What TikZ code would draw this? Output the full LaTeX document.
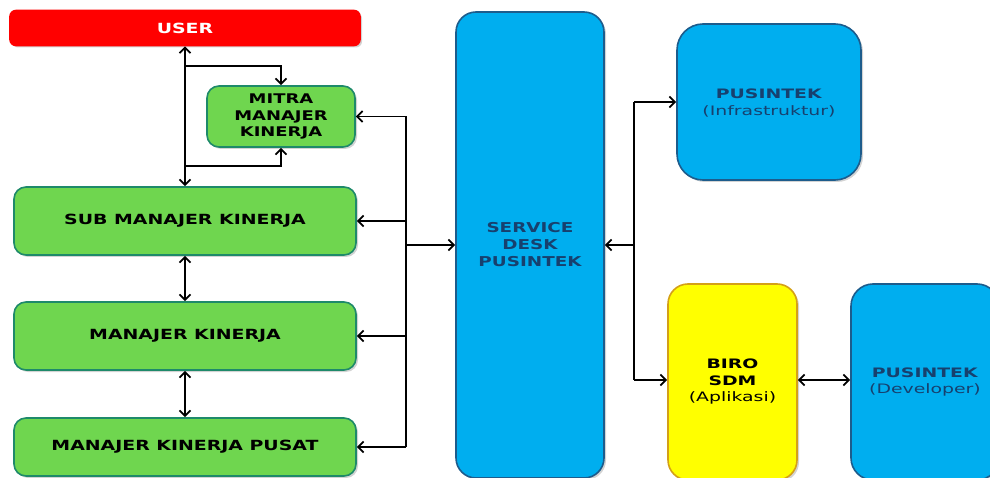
\documentclass[tikz,border=0pt]{standalone}
\usepackage{fontspec}
\setmainfont{DejaVu Sans}
\newfontfamily\widefont[FakeStretch=1.35]{DejaVu Sans}
\newfontfamily\widerfont[FakeStretch=1.45]{DejaVu Sans}
\usetikzlibrary{arrows.meta,shadows}
\definecolor{ured}{HTML}{FF0000}
\definecolor{gfill}{HTML}{6FD64F}
\definecolor{gdraw}{HTML}{1E8A6A}
\definecolor{bfill}{HTML}{00AEEF}
\definecolor{bdraw}{HTML}{1D5C8C}
\definecolor{btext}{HTML}{17406E}
\definecolor{yfill}{HTML}{FFFF00}
\definecolor{ydraw}{HTML}{D4A017}
\tikzset{
  x=1pt,y=-1pt,
  box/.style={rectangle,draw,line width=1.6pt,inner sep=0pt,align=center,
    drop shadow={shadow xshift=2pt,shadow yshift=-2pt,opacity=0.35}},
  greenbox/.style={box,fill=gfill,draw=gdraw,rounded corners=12pt,
    font=\widefont\bfseries\fontsize{14}{17}\selectfont},
  bluebox/.style={box,fill=bfill,draw=bdraw,text=btext,
    font=\widerfont\fontsize{13}{16.5}\selectfont},
  conn/.style={line width=1.8pt,-{Straight Barb[length=5.5pt,width=11pt,line width=1.8pt]}},
  bconn/.style={line width=1.8pt,{Straight Barb[length=5.5pt,width=11pt,line width=1.8pt]}-{Straight Barb[length=5.5pt,width=11pt,line width=1.8pt]}},
  plain/.style={line width=1.8pt}
}
\begin{document}
\begin{tikzpicture}
\useasboundingbox (0,0) rectangle (990,478);
\clip (0,0) rectangle (990,478);
% boxes
\node[box,fill=ured,draw=ured,rounded corners=6pt,text=white,
  font=\widefont\bfseries\fontsize{14}{16}\selectfont,
  minimum width=350pt,minimum height=35pt] (user) at (185,28) {USER};
\node[greenbox,minimum width=148pt,minimum height=61pt,
  font=\widefont\bfseries\fontsize{13.3}{16.8}\selectfont] (mitra) at (281,116.5)
  {MITRA\\MANAJER\\KINERJA};
\node[greenbox,minimum width=342pt,minimum height=68pt] (sub) at (185,221)
  {SUB MANAJER KINERJA};
\node[greenbox,minimum width=342pt,minimum height=68pt] (mk) at (185,336)
  {MANAJER KINERJA};
\node[greenbox,minimum width=342pt,minimum height=58pt] (pusat) at (185,447)
  {MANAJER KINERJA PUSAT};
\node[bluebox,rounded corners=20pt,minimum width=148pt,minimum height=466pt,
  font=\widefont\bfseries\fontsize{13.6}{17}\selectfont] (sd) at (530,245)
  {SERVICE\\DESK\\PUSINTEK};
\node[bluebox,rounded corners=26pt,minimum width=184pt,minimum height=156pt] (infra) at (769,102) {};
\node[text=btext,align=center,font=\widerfont\fontsize{13}{16.5}\selectfont] (infratxt) at (769,103)
  {\textbf{PUSINTEK}\\(Infrastruktur)};
\node[box,fill=yfill,draw=ydraw,rounded corners=20pt,minimum width=129pt,minimum height=196pt,
  font=\widerfont\fontsize{13}{16.5}\selectfont] (biro) at (732.5,382)
  {\textbf{BIRO}\\\textbf{SDM}\\(Aplikasi)};
\node[bluebox,rounded corners=22pt,minimum width=148pt,minimum height=196pt] (dev) at (925,382)
  {\textbf{PUSINTEK}\\(Developer)};
% left connectors
\coordinate (ja) at (185,66);
\coordinate (jb) at (185,166);
\draw[bconn] (user.south) -- (sub.north);
\draw[conn] (ja) -| (mitra.north);
\draw[conn] (jb) -| (mitra.south);
\draw[bconn] (sub.south) -- (mk.north);
\draw[bconn] (mk.south) -- (pusat.north);
% bus
\coordinate (bt) at (406,116.5);
\coordinate (bb) at (406,447);
\coordinate (bm) at (406,245);
\draw[plain] (bt) -- (bb);
\draw[conn] (bt) -- (mitra.east);
\draw[conn] (sub.east -| bt) -- (sub.east);
\draw[conn] (mk.east -| bt) -- (mk.east);
\draw[conn] (bb) -- (pusat.east);
\draw[conn,line width=2.6pt] (bm) -- (bm -| sd.west);
% right connectors
\coordinate (rt) at (634,102);
\coordinate (rm) at (634,245);
\coordinate (rb) at (634,380);
\draw[plain] (rt) -- (rb);
\draw[conn] (rm) -- (rm -| sd.east);
\draw[conn] (rt) -- (infra.west);
\draw[conn] (rb) -- (rb -| biro.west);
\draw[bconn] (rb -| biro.east) -- (rb -| dev.west);
\end{tikzpicture}
\end{document}
